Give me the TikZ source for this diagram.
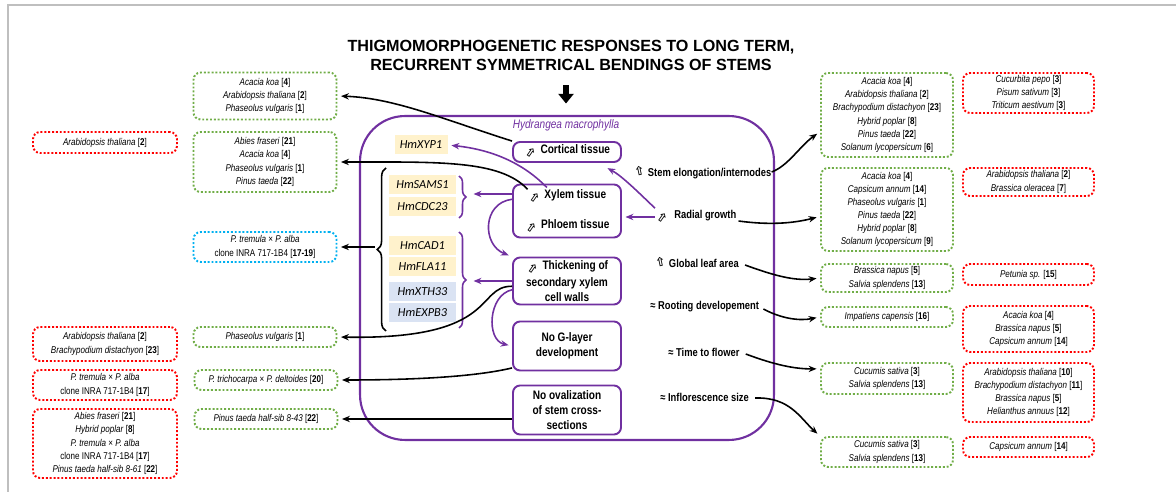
\documentclass[tikz,border=0pt]{standalone}
\usepackage{fontspec}
\usepackage{graphicx}
\setmainfont[FakeStretch=0.82]{Liberation Sans}
\newfontfamily\titlefont{Liberation Sans}
\newfontfamily\genefont{Carlito}
\newfontfamily\symfont{DejaVu Sans}
\usetikzlibrary{arrows.meta,positioning,decorations.pathreplacing}

\definecolor{hmpurple}{RGB}{112,48,160}
\definecolor{okgreen}{RGB}{112,173,71}
\definecolor{nored}{RGB}{255,0,0}
\definecolor{mixblue}{RGB}{0,176,240}
\definecolor{geneyellow}{RGB}{255,242,204}
\definecolor{geneblue}{RGB}{218,227,243}

\newcommand{\spec}[2]{\textit{#1} [\textbf{#2}]}
\newcommand{\upicon}{{\symfont\fontsize{7}{7}\selectfont\rotatebox{12}{⇧}}}
\newcommand{\radicon}{{\symfont\fontsize{7}{7}\selectfont\rotatebox{-35}{⇧}}}

\begin{document}
\begin{tikzpicture}[
  x=0.02cm, y=-0.02cm,
  lit/.style={rounded corners=4pt,line width=1.1pt,dash pattern=on 1.1pt off 1.1pt,align=center,inner sep=1pt,font=\fontsize{5.6}{7.5}\selectfont},
  okbox/.style={lit,draw=okgreen},
  nobox/.style={lit,draw=nored},
  mixbox/.style={lit,draw=mixblue},
  tissue/.style={draw=hmpurple,line width=1.1pt,rounded corners=4pt,align=center,minimum width=2.16cm,inner sep=1pt,font=\bfseries\fontsize{7}{8.4}\selectfont},
  tislabel/.style={inner sep=0pt,font=\bfseries\fontsize{7}{8.4}\selectfont},
  gene/.style={fill=geneyellow,minimum width=1.34cm,minimum height=0.38cm,inner sep=0pt,font=\genefont\itshape\fontsize{7}{8}\selectfont},
  resp/.style={anchor=west,inner sep=0pt,font=\bfseries\fontsize{6.5}{8}\selectfont},
  arr/.style={-{Stealth[length=4.5pt,width=3.6pt]},line width=0.9pt,shorten >=2pt},
  parr/.style={arr,hmpurple},
  brc/.style={decorate,line width=0.9pt}
]
\useasboundingbox (0,0) rectangle (1176,492);
\draw[black!25,line width=0.6pt] (8,492) -- (8,5) -- (1176,5);

% title and host plant
\node[align=center,font=\titlefont\bfseries\fontsize{9.2}{10.8}\selectfont] (title) at (571,55) {THIGMOMORPHOGENETIC RESPONSES TO LONG TERM,\\RECURRENT SYMMETRICAL BENDINGS OF STEMS};
\node[draw=hmpurple,line width=1.2pt,rounded corners=0.9cm,minimum width=8.28cm,minimum height=6.48cm] (frame) at (567,278) {};
\node[text=hmpurple,font=\itshape\fontsize{7}{8}\selectfont] (host) at (566,125) {Hydrangea macrophylla};
\draw[line width=3pt,-{Triangle[length=5.5pt,width=8.5pt]},shorten <=5pt,shorten >=6.5pt] (title.south -| host) -- (frame.north -| host);

% tissues
\node[tissue,minimum height=0.4cm] (cortex) at (567,152) {\radicon\ Cortical tissue};
\node[tissue,minimum height=1.06cm] (vasc) at (567,211) {};
\node[tislabel] (xyl) at (567,197) {\radicon\ Xylem tissue};
\node[tislabel] (phl) at (567,227) {\radicon\ Phloem tissue};
\node[tissue,minimum height=0.94cm] (thick) at (567,281) {\radicon\ Thickening of\\secondary xylem\\cell walls};
\node[tissue,minimum height=0.98cm] (nogl) at (567,346) {No G-layer\\development};
\node[tissue,minimum height=0.98cm] (noov) at (567,410) {No ovalization\\of stem cross-\\sections};

% genes
\node[gene,minimum width=1.06cm] (xyp) at (421,145) {HmXYP1};
\node[gene] (sams) at (422.5,185) {HmSAMS1};
\node[gene] (cdc) at (422.5,207) {HmCDC23};
\node[gene] (cad) at (422.5,246) {HmCAD1};
\node[gene] (fla) at (422.5,267) {HmFLA11};
\node[gene,fill=geneblue] (xth) at (422.5,292) {HmXTH33};
\node[gene,fill=geneblue] (expb) at (422.5,313) {HmEXPB3};
\draw[brc,hmpurple,decoration={brace,amplitude=4pt}] (459,176) -- (459,218);
\draw[brc,hmpurple,decoration={brace,amplitude=4pt}] (459,232) -- (459,328);
\draw[brc,decoration={brace,amplitude=5pt}] (386,331) -- (386,168);
\coordinate (samsbr) at (470,194);
\coordinate (cadbr) at (470,281);
\coordinate (allbr) at (375,247);

% responses
\node[resp] (stem) at (633,172) {\upicon\ Stem elongation/internodes};
\node[resp] (radial) at (655,217) {\radicon\ \ Radial growth};
\node[resp] (leaf) at (654,262) {\upicon\ Global leaf area};
\node[resp] (root) at (650,307) {≈ Rooting developement};
\node[resp] (flower) at (668,352) {≈ Time to flower};
\node[resp] (infl) at (660,397) {≈ Inflorescence size};

% left: literature
\node[okbox,minimum width=2.86cm,minimum height=0.94cm] (cortexlit) at (265,96) {\spec{Acacia koa}{4}\\\spec{Arabidopsis thaliana}{2}\\\spec{Phaseolus vulgaris}{1}};
\node[okbox,minimum width=2.86cm,minimum height=1.2cm] (xylemlit) at (265,162) {\spec{Abies fraseri}{21}\\\spec{Acacia koa}{4}\\\spec{Phaseolus vulgaris}{1}\\\spec{Pinus taeda}{22}};
\node[mixbox,minimum width=2.86cm,minimum height=0.6cm] (genelit) at (265,247) {\textit{P. tremula} × \textit{P. alba}\\clone INRA 717-1B4 [\textbf{17-19}]};
\node[okbox,minimum width=2.86cm,minimum height=0.4cm] (thicklit) at (265,337) {\spec{Phaseolus vulgaris}{1}};
\node[okbox,minimum width=2.86cm,minimum height=0.4cm] (gllit) at (266,380) {\textit{P. trichocarpa} × \textit{P. deltoides} [\textbf{20}]};
\node[okbox,minimum width=2.86cm,minimum height=0.4cm] (ovlit) at (266,419) {\spec{Pinus taeda half-sib 8-43}{22}};
\node[nobox,minimum width=2.88cm,minimum height=0.42cm] (xylemno) at (105,142.5) {\spec{Arabidopsis thaliana}{2}};
\node[nobox,minimum width=2.88cm,minimum height=0.68cm] (thickno) at (105,344) {\spec{Arabidopsis thaliana}{2}\\\spec{Brachypodium distachyon}{23}};
\node[nobox,minimum width=2.88cm,minimum height=0.6cm] (glno) at (105,385) {\textit{P. tremula} × \textit{P. alba}\\clone INRA 717-1B4 [\textbf{17}]};
\node[nobox,minimum width=2.88cm,minimum height=1.38cm] (ovno) at (105,443.5) {\spec{Abies fraseri}{21}\\\spec{Hybrid poplar}{8}\\\textit{P. tremula} × \textit{P. alba}\\clone INRA 717-1B4 [\textbf{17}]\\\spec{Pinus taeda half-sib 8-61}{22}};

% right: literature
\node[okbox,minimum width=2.64cm,minimum height=1.68cm] (stemlit) at (887,115) {\spec{Acacia koa}{4}\\\spec{Arabidopsis thaliana}{2}\\\spec{Brachypodium distachyon}{23}\\\spec{Hybrid poplar}{8}\\\spec{Pinus taeda}{22}\\\spec{Solanum lycopersicum}{6}};
\node[okbox,minimum width=2.64cm,minimum height=1.66cm] (radlit) at (887,209.5) {\spec{Acacia koa}{4}\\\spec{Capsicum annum}{14}\\\spec{Phaseolus vulgaris}{1}\\\spec{Pinus taeda}{22}\\\spec{Hybrid poplar}{8}\\\spec{Solanum lycopersicum}{9}};
\node[okbox,minimum width=2.64cm,minimum height=0.56cm] (leaflit) at (887,278) {\spec{Brassica napus}{5}\\\spec{Salvia splendens}{13}};
\node[okbox,minimum width=2.64cm,minimum height=0.4cm] (rootlit) at (887,317) {\spec{Impatiens capensis}{16}};
\node[okbox,minimum width=2.64cm,minimum height=0.62cm] (flowlit) at (887,378.5) {\spec{Cucumis sativa}{3}\\\spec{Salvia splendens}{13}};
\node[okbox,minimum width=2.64cm,minimum height=0.6cm] (infllit) at (887,452) {\spec{Cucumis sativa}{3}\\\spec{Salvia splendens}{13}};
\node[nobox,minimum width=2.62cm,minimum height=0.8cm] (stemno) at (1028.5,93) {\spec{Cucurbita pepo}{3}\\\spec{Pisum sativum}{3}\\\spec{Triticum aestivum}{3}};
\node[nobox,minimum width=2.62cm,minimum height=0.56cm] (radno) at (1028.5,182) {\spec{Arabidopsis thaliana}{2}\\\spec{Brassica oleracea}{7}};
\node[nobox,minimum width=2.62cm,minimum height=0.42cm] (leafno) at (1028.5,274.5) {\spec{Petunia sp.}{15}};
\node[nobox,minimum width=2.62cm,minimum height=0.92cm] (rootno) at (1028.5,329) {\spec{Acacia koa}{4}\\\spec{Brassica napus}{5}\\\spec{Capsicum annum}{14}};
\node[nobox,minimum width=2.62cm,minimum height=1.18cm] (flowno) at (1028.5,392.5) {\spec{Arabidopsis thaliana}{10}\\\spec{Brachypodium distachyon}{11}\\\spec{Brassica napus}{5}\\\spec{Helianthus annuus}{12}};
\node[nobox,minimum width=2.62cm,minimum height=0.4cm] (inflno) at (1028.5,447) {\spec{Capsicum annum}{14}};

% purple links
\draw[parr] ([xshift=11pt,yshift=1pt]xyl.north west) .. controls (525,165) and (495,150) .. (xyp.east);
\draw[parr] (vasc.west |- samsbr) -- (samsbr);
\draw[parr] ([yshift=-3pt]vasc.west |- samsbr) .. controls (482,203) and (482,245) .. (thick.north west);
\draw[parr] (thick.west) -- (cadbr);
\draw[parr] ([yshift=-5pt]thick.west) .. controls (488,295) and (486,340) .. (nogl.west);
\draw[parr] (radial.west) -- (vasc.east |- radial.west);
\draw[parr] ([yshift=5pt]radial.west) .. controls (638,192) and (622,176) .. ([xshift=-10pt,yshift=-2pt]cortex.south east);

% black links
\draw[arr] (cortex.north west) .. controls (445,120) and (395,98) .. (cortexlit.east);
\draw[arr] (xyl.north west) .. controls (500,160) and (440,162) .. (xylemlit.east);
\draw[arr] (allbr) -- (genelit.east);
\draw[arr] ([yshift=-3pt]thick.west) .. controls (475,286) and (500,340) .. (thicklit.east);
\draw[arr] ([yshift=2pt]nogl.south west) .. controls (470,378) and (400,380) .. (gllit.east);
\draw[arr] (noov.west |- ovlit.east) -- (ovlit.east);
\draw[arr] (stem.east) .. controls (788,166) and (800,146) .. (stemlit.194);
\draw[arr] (radial.east) ++(2,4) .. controls (775,226) and (798,222) .. ([yshift=-4pt]radlit.west);
\draw[arr] (leaf.east) ++(6,3) .. controls (775,276) and (795,281) .. (leaflit.west);
\draw[arr] (root.east) ++(4,2) .. controls (782,319) and (800,321) .. (rootlit.west);
\draw[arr] (flower.east) ++(6,2) .. controls (775,365) and (795,369) .. ([yshift=5.5pt]flowlit.west);
\draw[arr] (infl.east) ++(6,1) .. controls (790,397) and (800,418) .. (infllit.north west);
\end{tikzpicture}
\end{document}
